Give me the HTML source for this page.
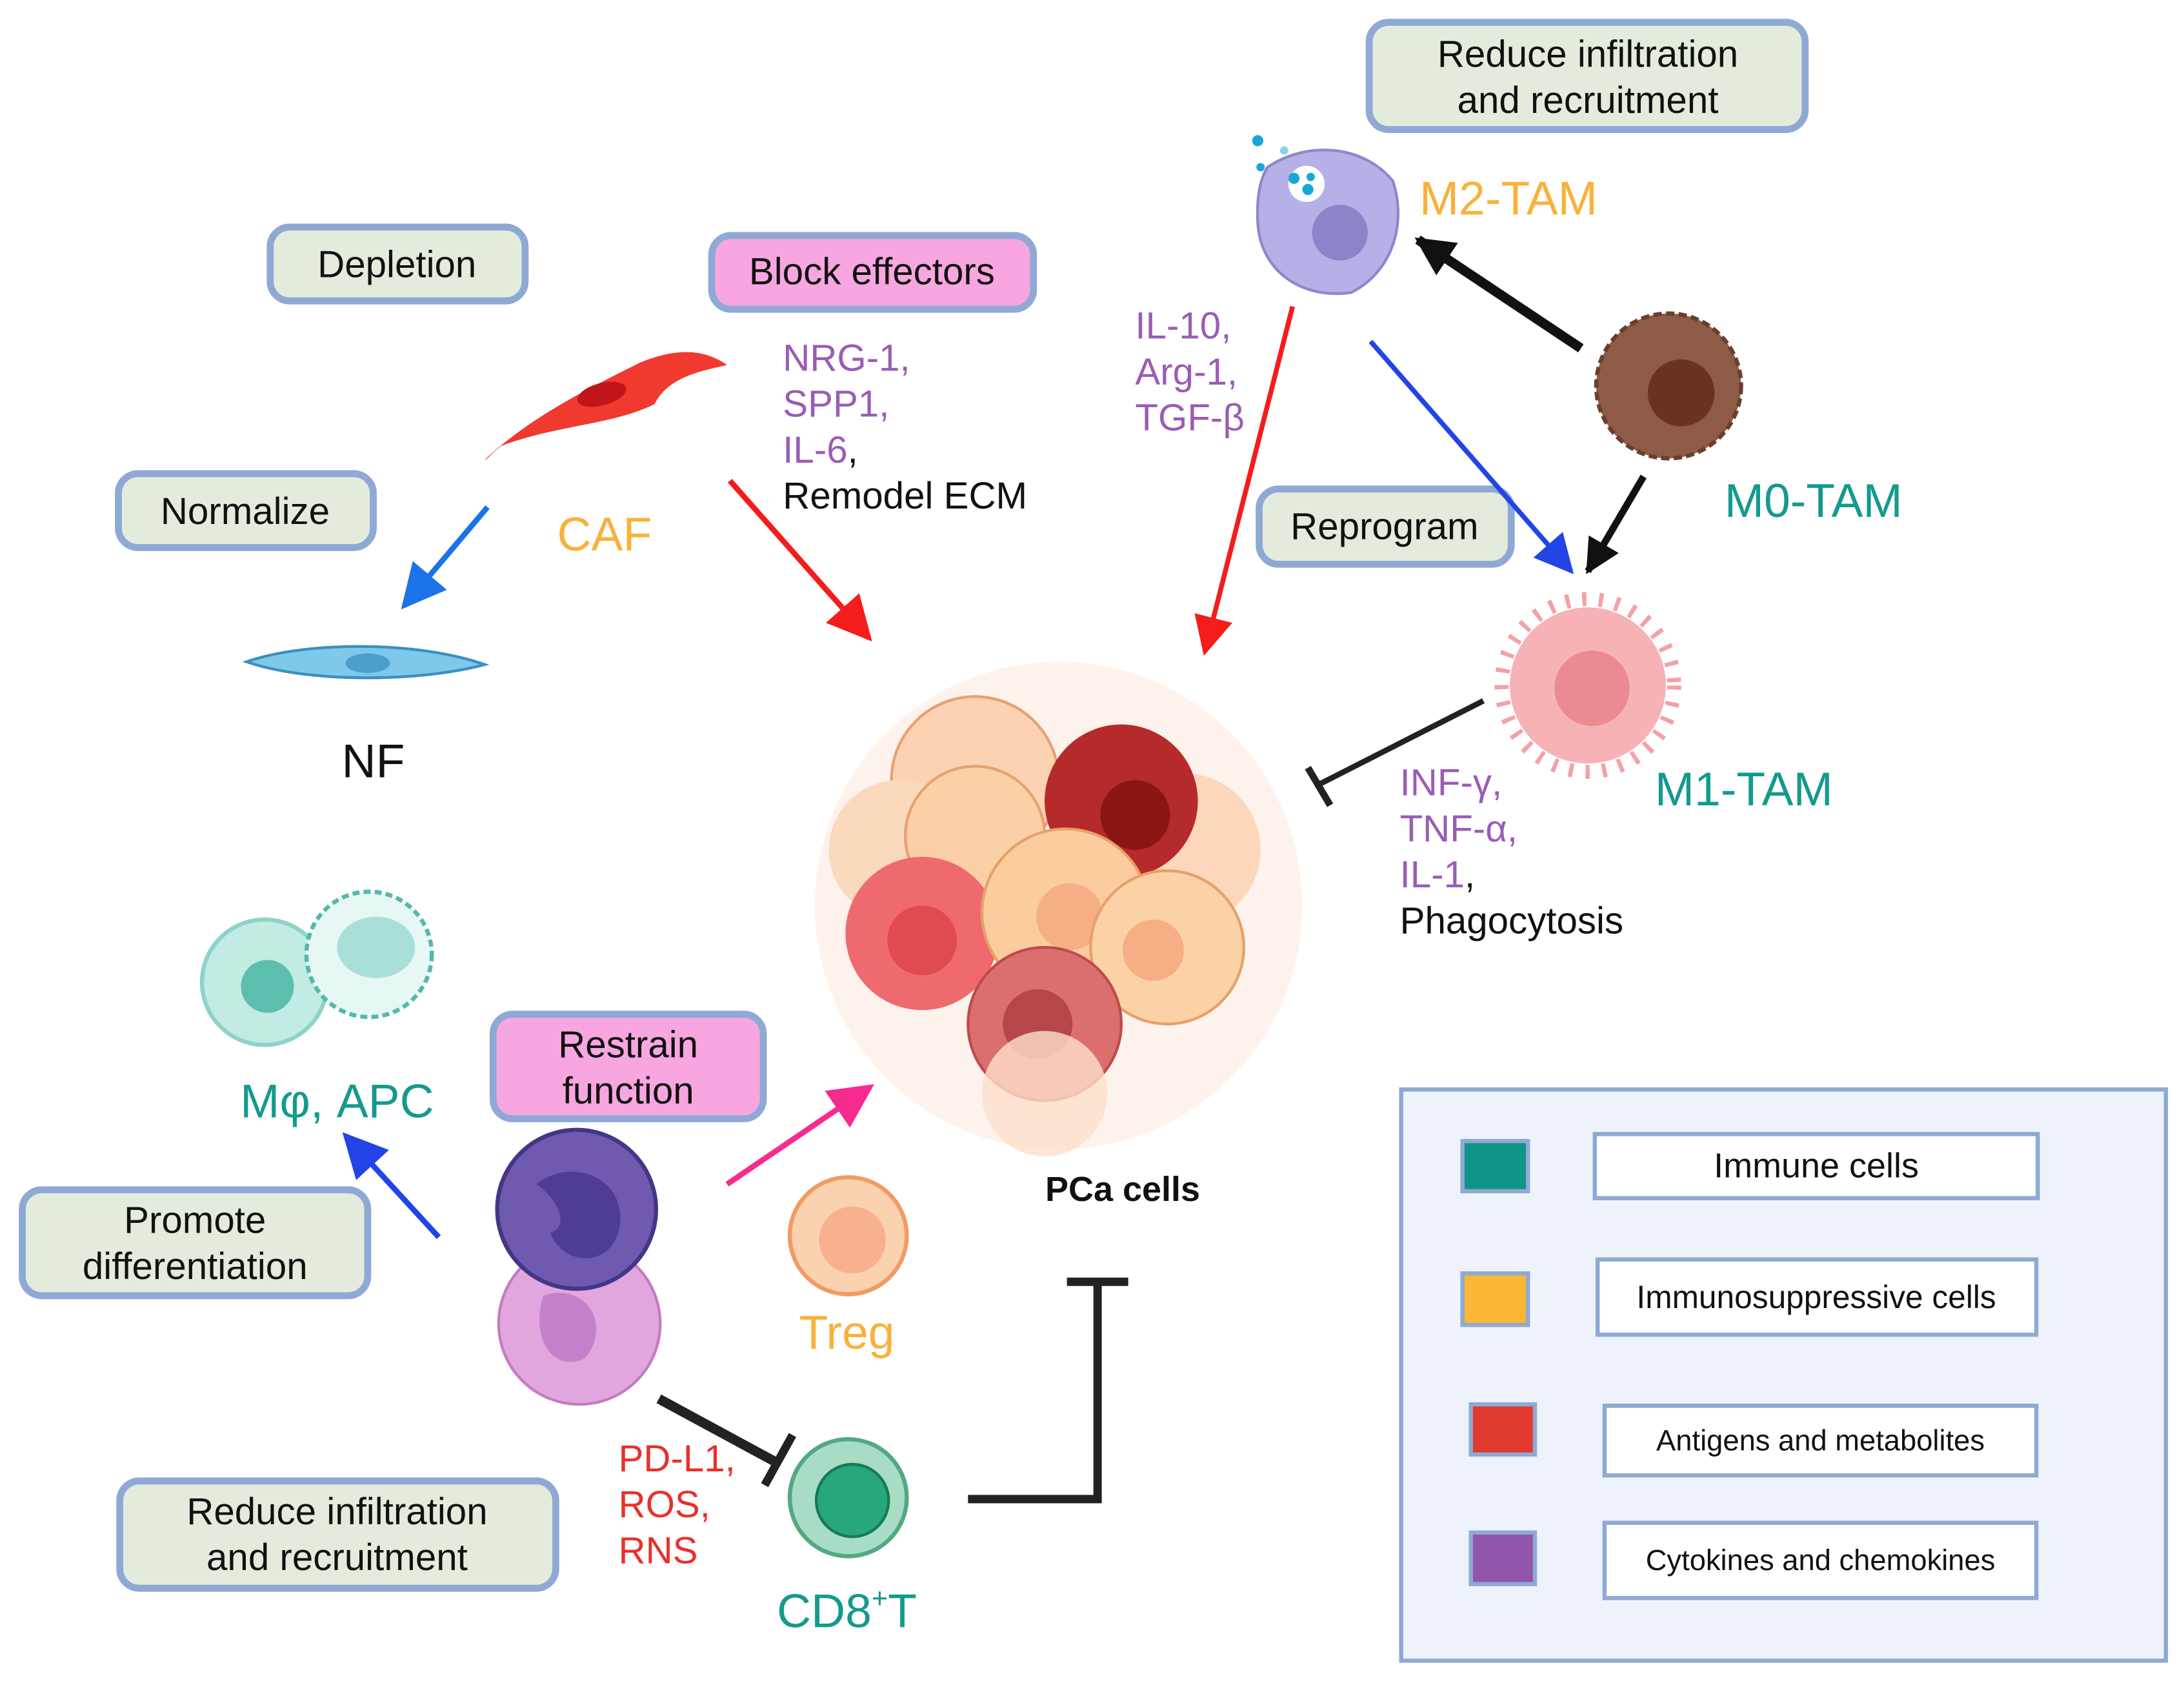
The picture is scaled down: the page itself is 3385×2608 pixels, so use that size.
<!DOCTYPE html>
<html><head><meta charset="utf-8"><style>
html,body{margin:0;padding:0;background:#fff;}
svg{display:block;}
text{font-family:"Liberation Sans",sans-serif;}
</style></head><body>
<svg width="3385" height="2608" viewBox="0 0 1568 1208" preserveAspectRatio="none" xmlns="http://www.w3.org/2000/svg">
<defs>
<marker id="ab" viewBox="0 0 10 10" refX="9" refY="5" markerWidth="8" markerHeight="8" orient="auto" markerUnits="strokeWidth"><path d="M0,0L10,5L0,10z" fill="#1a73e8"/></marker>
<marker id="ar" viewBox="0 0 10 10" refX="9" refY="5" markerWidth="8" markerHeight="8" orient="auto" markerUnits="strokeWidth"><path d="M0,0L10,5L0,10z" fill="#f51c1c"/></marker>
<marker id="ab2" viewBox="0 0 10 10" refX="9" refY="5" markerWidth="8" markerHeight="8" orient="auto" markerUnits="strokeWidth"><path d="M0,0L10,5L0,10z" fill="#2244e6"/></marker>
<marker id="ak" viewBox="0 0 10 10" refX="9" refY="5" markerWidth="4" markerHeight="4" orient="auto" markerUnits="strokeWidth"><path d="M0,0L10,5L0,10z" fill="#111"/></marker>
<marker id="ak2" viewBox="0 0 10 10" refX="9" refY="5" markerWidth="5" markerHeight="5" orient="auto" markerUnits="strokeWidth"><path d="M0,0L10,5L0,10z" fill="#111"/></marker>
<marker id="ap" viewBox="0 0 10 10" refX="9" refY="5" markerWidth="8" markerHeight="8" orient="auto" markerUnits="strokeWidth"><path d="M0,0L10,5L0,10z" fill="#f72a8e"/></marker>
</defs>
<rect width="1568" height="1208" fill="#fff"/>

<g stroke="#8fa9d4" stroke-width="5">
<rect x="983" y="16" width="313" height="77" rx="14" fill="#e3ecdc"/>
<rect x="194" y="163" width="183" height="53" rx="14" fill="#e3ecdc"/>
<rect x="511" y="169" width="231" height="53" rx="14" fill="#f7a6e0"/>
<rect x="85" y="340" width="183" height="53" rx="14" fill="#e3ecdc"/>
<rect x="904" y="351" width="181" height="54" rx="14" fill="#e3ecdc"/>
<rect x="354" y="728" width="194" height="75" rx="14" fill="#f7a6e0"/>
<rect x="16" y="854" width="248" height="76" rx="14" fill="#e3ecdc"/>
<rect x="86" y="1063" width="313" height="77" rx="14" fill="#e3ecdc"/>
</g>
<g font-size="27" fill="#111" text-anchor="middle">
<text x="1140" y="48">Reduce infiltration</text><text x="1140" y="81">and recruitment</text>
<text x="285" y="199">Depletion</text>
<text x="626" y="204">Block effectors</text>
<text x="176" y="376">Normalize</text>
<text x="994" y="387">Reprogram</text>
<text x="451" y="759">Restrain</text><text x="451" y="792">function</text>
<text x="140" y="885">Promote</text><text x="140" y="918">differentiation</text>
<text x="242" y="1094">Reduce infiltration</text><text x="242" y="1127">and recruitment</text>
</g>

<rect x="1006" y="782" width="549" height="410" fill="#eef3fb" stroke="#8fa9d4" stroke-width="3"/>
<g stroke="#8fa9d4" stroke-width="3">
<rect x="1050" y="819" width="47" height="36" fill="#0f9488"/>
<rect x="1050" y="914" width="47" height="37" fill="#fbb635"/>
<rect x="1056" y="1008" width="46" height="36" fill="#e0392f"/>
<rect x="1056" y="1100" width="46" height="37" fill="#9155ac"/>
<rect x="1145" y="814" width="318" height="46" fill="#fff"/>
<rect x="1147" y="904" width="315" height="54" fill="#fff"/>
<rect x="1152" y="1009" width="310" height="50" fill="#fff"/>
<rect x="1152" y="1093" width="310" height="54" fill="#fff"/>
</g>
<g fill="#111" text-anchor="middle">
<text x="1304" y="845" font-size="25">Immune cells</text>
<text x="1304" y="939" font-size="23">Immunosuppressive cells</text>
<text x="1307" y="1041" font-size="21">Antigens and metabolites</text>
<text x="1307" y="1127" font-size="21">Cytokines and chemokines</text>
</g>

<path d="M348,330 C380,300 420,280 460,260 C485,250 505,250 522,262 C505,266 480,270 470,290 C440,305 400,305 360,320 C352,326 350,330 348,330z" fill="#f0392f"/>
<ellipse cx="432" cy="283" rx="18" ry="8" fill="#c0151a" transform="rotate(-15 432 283)"/>
<path d="M177,475 C220,460 300,460 348,477 C300,490 220,490 177,475z" fill="#7ec8ea" stroke="#3a8fc0" stroke-width="2"/>
<ellipse cx="264" cy="476" rx="16" ry="7" fill="#4b9fca"/>
<path d="M910,120 C940,100 980,105 1000,130 C1010,160 1000,195 970,210 C935,215 905,195 903,160 C902,140 905,128 910,120z" fill="#b5b1e6" stroke="#8d88cc" stroke-width="2"/>
<circle cx="962" cy="167" r="20" fill="#8a85c8"/>
<circle cx="938" cy="132" r="13" fill="#fff"/>
<g fill="#1aa7d6"><circle cx="903" cy="101" r="4"/><circle cx="929" cy="128" r="4"/><circle cx="939" cy="136" r="4"/><circle cx="905" cy="120" r="3"/><circle cx="922" cy="108" r="3" fill="#8fd0ea"/><circle cx="941" cy="127" r="3"/></g>
<circle cx="1198" cy="277" r="52" fill="#8d5b46" stroke="#6b3e2c" stroke-width="3" stroke-dasharray="6 3"/>
<circle cx="1207" cy="282" r="24" fill="#6a3222"/>
<circle cx="1140" cy="492" r="62" fill="none" stroke="#f5a0a6" stroke-width="10" stroke-dasharray="3 9"/>
<circle cx="1140" cy="492" r="56" fill="#f7b2b6"/>
<circle cx="1143" cy="494" r="27" fill="#ec8a92"/>
<g>
<circle cx="760" cy="650" r="175" fill="#fdeee4" opacity="0.7"/>
<circle cx="700" cy="560" r="60" fill="#fbd3b3" stroke="#e9a070" stroke-width="2"/>
<circle cx="645" cy="610" r="50" fill="#fbd9bd"/>
<circle cx="850" cy="610" r="55" fill="#fcd7bb"/>
<circle cx="700" cy="600" r="50" fill="#fbd0a7" stroke="#e8a170" stroke-width="2"/>
<circle cx="805" cy="575" r="55" fill="#b52a2a"/>
<circle cx="815" cy="585" r="25" fill="#8a1515"/>
<circle cx="662" cy="670" r="55" fill="#ee6a6e"/>
<circle cx="662" cy="675" r="25" fill="#e04a50"/>
<circle cx="765" cy="655" r="60" fill="#fbcd9e" stroke="#e7a06a" stroke-width="2"/>
<circle cx="768" cy="658" r="24" fill="#f6ae85"/>
<circle cx="838" cy="680" r="55" fill="#fbd1a6" stroke="#e7a06a" stroke-width="2"/>
<circle cx="828" cy="682" r="22" fill="#f6ae85"/>
<circle cx="750" cy="735" r="55" fill="#db6f70" stroke="#c04a4c" stroke-width="2"/>
<circle cx="745" cy="735" r="25" fill="#b6464a"/>
<circle cx="750" cy="785" r="45" fill="#fde0cc" opacity="0.8"/>
</g>
<circle cx="190" cy="705" r="45" fill="#c2ebe4" stroke="#8ed3c8" stroke-width="3"/>
<circle cx="192" cy="708" r="19" fill="#5cbfae"/>
<circle cx="265" cy="685" r="45" fill="#e6f7f4" stroke="#55b8aa" stroke-width="3" stroke-dasharray="5 3"/>
<ellipse cx="270" cy="680" rx="28" ry="22" fill="#a8e0d7"/>
<circle cx="416" cy="950" r="58" fill="#e2a6df" stroke="#c37cc0" stroke-width="2"/>
<path d="M390,930 C420,920 440,950 420,975 C400,985 380,965 390,930z" fill="#c480c8"/>
<circle cx="414" cy="868" r="57" fill="#6f5ab0" stroke="#443686" stroke-width="3"/>
<path d="M385,850 C410,830 450,845 445,880 C440,910 405,910 395,885 C410,880 400,860 385,850z" fill="#4e3d92"/>
<circle cx="609" cy="887" r="42" fill="#fbd2b0" stroke="#f19b63" stroke-width="3"/>
<circle cx="612" cy="890" r="24" fill="#f8b18e"/>
<circle cx="609" cy="1075" r="42" fill="#a9dcc5" stroke="#52a981" stroke-width="3"/>
<circle cx="612" cy="1077" r="26" fill="#28a67c" stroke="#157a57" stroke-width="2"/>

<line x1="350" y1="364" x2="290" y2="435" stroke="#1a73e8" stroke-width="4" marker-end="url(#ab)"/>
<line x1="524" y1="345" x2="624" y2="458" stroke="#f51c1c" stroke-width="4" marker-end="url(#ar)"/>
<line x1="928" y1="220" x2="865" y2="468" stroke="#f51c1c" stroke-width="3.5" marker-end="url(#ar)"/>
<line x1="984" y1="245" x2="1128" y2="410" stroke="#2244e6" stroke-width="3.5" marker-end="url(#ab2)"/>
<line x1="1135" y1="250" x2="1018" y2="172" stroke="#111" stroke-width="7" marker-end="url(#ak)"/>
<line x1="1180" y1="342" x2="1140" y2="410" stroke="#111" stroke-width="5" marker-end="url(#ak2)"/>
<line x1="1065" y1="503" x2="947" y2="563" stroke="#222" stroke-width="4"/>
<line x1="939" y1="551" x2="955" y2="578" stroke="#222" stroke-width="5"/>
<line x1="522" y1="850" x2="625" y2="780" stroke="#f72a8e" stroke-width="4" marker-end="url(#ap)"/>
<line x1="315" y1="888" x2="248" y2="815" stroke="#2244e6" stroke-width="4" marker-end="url(#ab2)"/>
<line x1="473" y1="1004" x2="558" y2="1050" stroke="#222" stroke-width="7"/>
<line x1="549" y1="1066" x2="569" y2="1030" stroke="#222" stroke-width="6"/>
<polyline points="695,1076 788,1076 788,920" fill="none" stroke="#222" stroke-width="6"/>
<line x1="766" y1="920" x2="810" y2="920" stroke="#222" stroke-width="6"/>

<g font-size="34" text-anchor="middle">
<text x="434" y="395" fill="#f9b13b">CAF</text>
<text x="268" y="558" fill="#111">NF</text>
<text x="1083" y="154" fill="#f9b13b">M2-TAM</text>
<text x="1302" y="371" fill="#149a8d">M0-TAM</text>
<text x="1252" y="578" fill="#149a8d">M1-TAM</text>
<text x="242" y="802" fill="#149a8d">Mφ, APC</text>
<text x="608" y="968" fill="#f9b13b">Treg</text>
<text x="608" y="1168" fill="#149a8d">CD8<tspan font-size="20" dy="-14">+</tspan><tspan dy="14">T</tspan></text>
</g>
<text x="806" y="862" font-size="25" font-weight="bold" text-anchor="middle" fill="#111">PCa cells</text>
<g font-size="27">
<text x="562" y="266" fill="#9b5cb4">NRG-1,</text>
<text x="562" y="299" fill="#9b5cb4">SPP1,</text>
<text x="562" y="332" fill="#9b5cb4">IL-6<tspan fill="#111">,</tspan></text>
<text x="562" y="365" fill="#111">Remodel ECM</text>
<text x="815" y="243" fill="#9b5cb4">IL-10,</text>
<text x="815" y="276" fill="#9b5cb4">Arg-1,</text>
<text x="815" y="309" fill="#9b5cb4">TGF-β</text>
<text x="1005" y="571" fill="#9b5cb4">INF-γ,</text>
<text x="1005" y="604" fill="#9b5cb4">TNF-α,</text>
<text x="1005" y="637" fill="#9b5cb4">IL-1<tspan fill="#111">,</tspan></text>
<text x="1005" y="670" fill="#111">Phagocytosis</text>
<text x="444" y="1056" fill="#e8312a">PD-L1,</text>
<text x="444" y="1089" fill="#e8312a">ROS,</text>
<text x="444" y="1122" fill="#e8312a">RNS</text>
</g>
</svg>
</body></html>
